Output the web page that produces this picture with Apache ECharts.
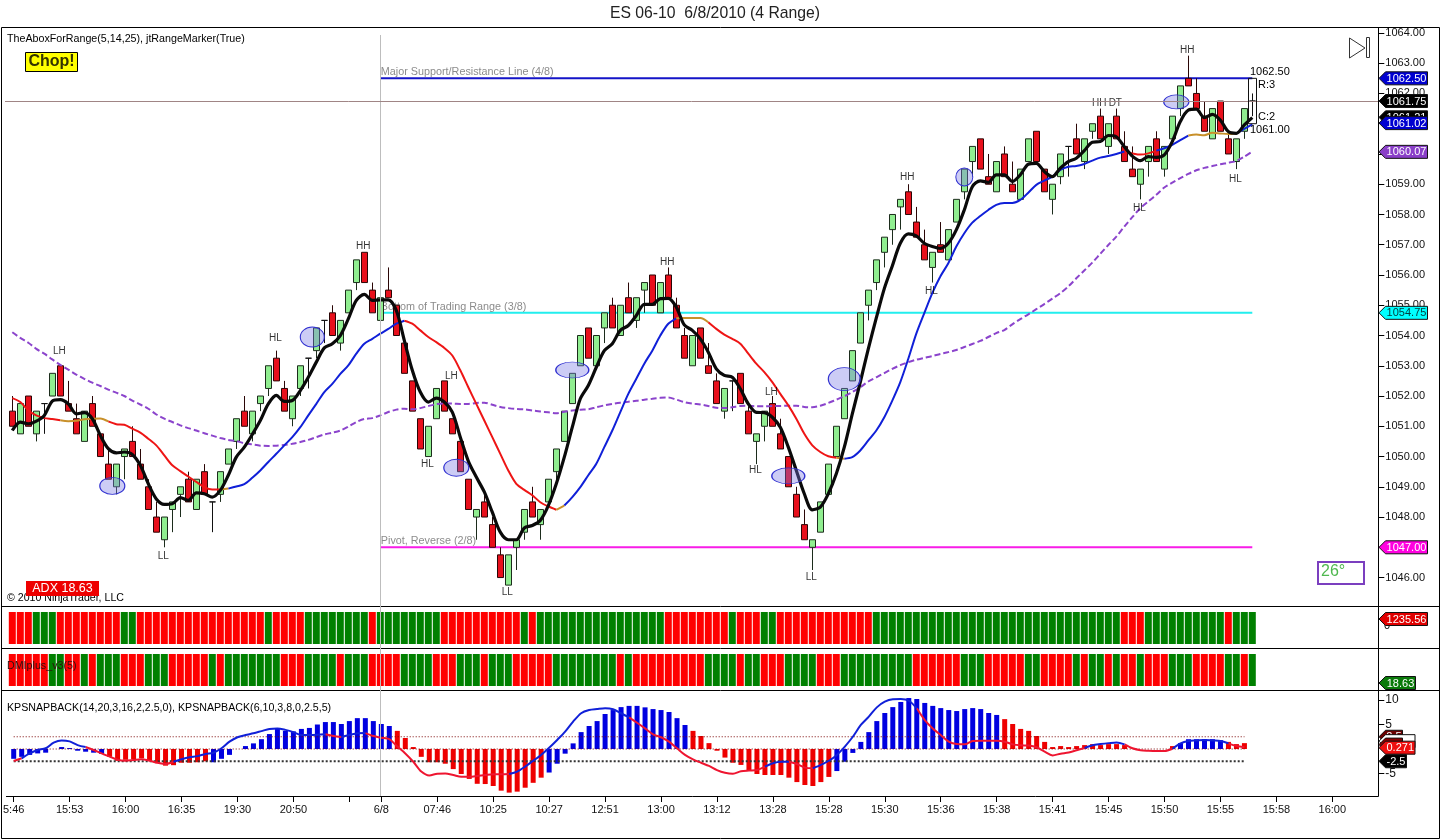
<!DOCTYPE html>
<html><head><meta charset="utf-8">
<style>html,body{margin:0;padding:0;background:#fff}#c{width:1440px;height:840px}</style>
<script src="https://cdn.jsdelivr.net/npm/echarts@6/dist/echarts.min.js"></script>
</head><body><div id="c"></div>
<script>
const opens=[1051.5,1050.75,1052,1050.75,1051.75,1052,1053,1051.75,1051.25,1050.5,
1051.75,1050.75,1049.75,1049,1050,1050.5,1049.75,1049,1048,1047.25,
1048.25,1048.75,1049.25,1048.25,1049.5,1048.5,1048.75,1049.75,1050.5,1051.5,
1050.75,1051.75,1052.25,1053.25,1052.25,1051.25,1052.25,1053.25,1053.5,1054.5,
1054.75,1053.75,1054.75,1055.75,1056.75,1055.5,1054.5,1055.5,1055,1053.75,
1052.5,1051.25,1050,1051.25,1052.5,1051.25,1050.5,1049.25,1048,1048.5,
1047.75,1046.75,1045.75,1047,1047.5,1048.5,1047.75,1048.5,1049.5,1050.5,
1051.75,1053,1054.25,1053,1054.25,1055,1054,1055.25,1054.5,1055.5,
1056,1054.75,1056,1055,1054,1053,1054.25,1053,1052.5,1051.5,
1052.5,1052.75,1051.5,1050.5,1051,1051.75,1050.75,1050,1048.75,1047.75,
1047,1047.5,1048.75,1050,1051.25,1052.5,1053.75,1055,1055.75,1056.75,
1057.5,1058.25,1058.75,1057.75,1057,1056.25,1057,1056.5,1057.75,1058.75,
1059.75,1060.5,1059.25,1058.75,1060,1059,1058.5,1059.75,1060.75,1059.5,
1058.5,1059.25,1060.25,1060.5,1059.75,1060.75,1061.25,1060.25,1061.25,1060.25,
1059.5,1059,1059.75,1060.5,1059.5,1060.5,1061.5,1062.5,1062,1061.25,
1060.5,1061.75,1060.5,1059.75,1060.75,1061.75];
const closes=[1051,1051.75,1051,1051.5,1051.75,1052.75,1052,1051.5,1050.75,1051.5,
1051,1050,1049.25,1049.75,1050.25,1050,1049.25,1048.25,1047.5,1048,
1048.5,1049,1048.5,1049.25,1048.75,1048.5,1049.5,1050.25,1051.25,1051,
1051.5,1052,1053,1052.5,1051.5,1052,1053,1053.25,1054.25,1054.5,
1054,1054.5,1055.5,1056.5,1055.75,1054.75,1055.25,1055.25,1054,1052.75,
1051.5,1050.25,1051,1052.25,1051.5,1050.75,1049.5,1048.25,1048.25,1048,
1047,1046,1046.75,1047.25,1048.25,1048,1048.25,1049.25,1050.25,1051.5,
1052.75,1054,1053.25,1054,1054.75,1054.25,1055,1054.75,1055.25,1055.75,
1055,1055.75,1055.25,1054.25,1053.25,1054,1053.25,1052.75,1051.75,1052.25,
1052.5,1051.75,1050.75,1050.75,1051.5,1051,1050.25,1049,1048,1047.25,
1047.25,1048.5,1049.75,1051,1052.25,1053.5,1054.75,1055.5,1056.5,1057.25,
1058,1058.5,1058,1057.25,1056.5,1056.75,1056.75,1057.5,1058.5,1059.5,
1060.25,1059.5,1059,1059.75,1059.25,1058.75,1059.5,1060.5,1059.75,1058.75,
1059,1060,1060.25,1060,1060.5,1061,1060.5,1061,1060.5,1059.75,
1059.25,1059.5,1060.25,1059.75,1060.25,1061.25,1062.25,1062.25,1061.5,1060.75,
1061.5,1060.75,1060,1060.5,1061.5,1061.75];
const lows=[1051,1050.75,1051,1050.5,1050.75,1052,1052,1051.5,1050.75,1050.5,
1051,1050,1049.25,1048.75,1049.25,1050,1049.25,1048.25,1047.5,1047,
1047.5,1048,1048.5,1048.25,1048.75,1047.5,1048.5,1049.75,1050.25,1051,
1050.5,1051.5,1052,1052.5,1051.5,1051,1052,1052.25,1053.25,1053.75,
1054,1053.5,1054.75,1055.5,1055.75,1054.75,1054.25,1055.25,1054,1052.75,
1051.5,1050.25,1050,1051.25,1051.5,1050.75,1049.5,1048.25,1047.25,1048,
1047,1046,1045.75,1046.25,1047.25,1048,1047.25,1048.5,1049.25,1050.5,
1051.75,1053,1053.25,1053,1053.75,1054.25,1054,1054.75,1054.25,1054.75,
1055,1054.75,1055.25,1054.25,1053.25,1053,1053.25,1052.75,1051.75,1051.25,
1051.5,1051.75,1050.75,1049.75,1050.5,1051,1050.25,1049,1048,1047.25,
1046.25,1047.5,1048.75,1050,1051.25,1052.5,1053.75,1054.5,1055.5,1056.25,
1057,1057.5,1058,1057.25,1056.5,1055.75,1056.75,1056.5,1057.75,1058.5,
1059.25,1059.5,1059,1058.75,1059.25,1058.75,1058.5,1059.75,1059.75,1058.75,
1058,1059,1059.25,1060,1059.5,1060.5,1060.5,1060,1060.5,1059.75,
1059.25,1058.5,1059.25,1059.75,1059.25,1060.5,1061.25,1062.25,1061.5,1060.75,
1060.5,1060.75,1060,1059.5,1060.5,1061.25];
const highs=[1052,1051.75,1052,1051.5,1051.75,1052.75,1053,1052.5,1051.75,1051.5,
1052,1050.75,1050.25,1049.75,1050.25,1051,1050.25,1049.25,1048.5,1048,
1048.5,1049,1049.5,1049.25,1049.75,1048.5,1049.5,1050.25,1051.25,1052,
1051.5,1052,1053,1053.5,1052.5,1052,1053,1053.25,1054.25,1054.5,
1055,1054.5,1055.5,1056.5,1056.75,1055.75,1055.25,1056.25,1055,1053.75,
1052.5,1051.25,1051,1052.25,1052.5,1051.25,1050.5,1049.25,1048.25,1048.75,
1048,1047,1046.75,1047.25,1048.25,1049,1048.25,1049.25,1050.25,1051.5,
1052.75,1054,1054.25,1054,1054.75,1055.25,1055,1055.75,1055.25,1055.75,
1056,1055.75,1056.25,1055.25,1054.25,1054,1054.25,1053.75,1052.75,1052.25,
1052.5,1052.75,1051.75,1050.75,1051.5,1052,1051.25,1050,1049,1048.25,
1047.25,1048.5,1049.75,1051,1052.25,1053.5,1054.75,1055.5,1056.5,1057.25,
1058,1058.5,1059,1058.25,1057.5,1056.75,1057.75,1057.5,1058.5,1059.5,
1060.25,1060.5,1060,1059.75,1060.25,1059.75,1059.5,1060.5,1060.75,1059.5,
1059,1060,1060.25,1061,1060.5,1061,1061.5,1061,1061.5,1060.75,
1060.25,1059.5,1060.25,1060.75,1060.25,1061.25,1062.25,1063.25,1062.5,1061.75,
1061.5,1061.75,1060.75,1060.5,1061.5,1062];
const fastLine=[1050.86,1051.14,1051.08,1051.17,1051.36,1051.83,1051.88,1051.74,1051.41,1051.45,
1051.25,1050.70,1050.26,1050.12,1050.15,1050.07,1049.71,1049.10,1048.60,1048.42,
1048.44,1048.64,1048.55,1048.80,1048.77,1048.66,1048.88,1049.38,1049.98,1050.31,
1050.73,1051.19,1051.74,1052.02,1051.82,1051.85,1052.18,1052.62,1053.12,1053.59,
1053.73,1054.00,1054.55,1055.16,1055.36,1055.16,1055.18,1055.18,1054.83,1053.84,
1052.85,1052.13,1051.80,1051.93,1051.80,1051.47,1050.64,1049.85,1049.32,1048.83,
1048.16,1047.50,1047.25,1047.25,1047.64,1047.72,1047.89,1048.38,1049.10,1049.98,
1050.97,1051.91,1052.35,1052.95,1053.50,1053.73,1054.17,1054.33,1054.66,1055.03,
1055.03,1055.22,1055.23,1054.94,1054.35,1054.17,1053.89,1053.45,1052.90,1052.68,
1052.62,1052.24,1051.74,1051.46,1051.45,1051.30,1050.97,1050.31,1049.54,1048.77,
1048.24,1048.33,1048.77,1049.43,1050.31,1051.41,1052.46,1053.56,1054.58,1055.55,
1056.30,1057.05,1057.36,1057.29,1057.05,1056.94,1056.88,1057.05,1057.49,1058.15,
1058.92,1059.11,1059.06,1059.31,1059.31,1059.09,1059.31,1059.66,1059.69,1059.42,
1059.25,1059.53,1059.75,1059.86,1060.11,1060.39,1060.41,1060.61,1060.57,1060.24,
1059.93,1059.78,1059.91,1059.89,1059.97,1060.41,1061.07,1061.45,1061.48,1061.20,
1061.31,1061.12,1060.74,1060.68,1060.96,1061.20];
const trendLine=[1051.93,1051.80,1051.52,1051.36,1051.27,1051.24,1051.20,1051.17,1051.18,1051.23,
1051.25,1051.26,1051.16,1051.07,1051.05,1050.92,1050.79,1050.59,1050.37,1050.04,
1049.71,1049.52,1049.34,1049.16,1048.99,1048.91,1048.91,1048.94,1049.01,1049.09,
1049.30,1049.54,1049.82,1050.09,1050.37,1050.64,1050.97,1051.36,1051.74,1052.13,
1052.40,1052.73,1053.01,1053.40,1053.73,1053.89,1054.06,1054.22,1054.39,1054.49,
1054.39,1054.17,1053.95,1053.78,1053.59,1053.34,1052.85,1052.29,1051.74,1051.19,
1050.64,1050.09,1049.54,1049.10,1048.90,1048.72,1048.49,1048.35,1048.24,1048.38,
1048.66,1048.99,1049.38,1049.76,1050.31,1050.86,1051.47,1052.07,1052.57,1053.07,
1053.50,1054.00,1054.39,1054.57,1054.58,1054.58,1054.58,1054.44,1054.22,1054.03,
1053.89,1053.73,1053.40,1053.07,1052.79,1052.46,1052.07,1051.69,1051.25,1050.75,
1050.37,1050.15,1050.01,1049.96,1049.93,1049.98,1050.20,1050.53,1050.86,1051.30,
1051.85,1052.46,1053.23,1054.06,1054.74,1055.40,1055.95,1056.39,1056.94,1057.38,
1057.73,1057.95,1058.15,1058.32,1058.38,1058.38,1058.48,1058.72,1058.98,1059.12,
1059.25,1059.47,1059.58,1059.60,1059.67,1059.78,1059.88,1059.93,1060.00,1060.08,
1060.02,1059.98,1060.02,1060.11,1060.19,1060.30,1060.46,1060.61,1060.64,1060.62,
1060.70,1060.68,1060.66,1060.68,1060.83,1060.98];
const slowLine=[1054.11,1053.92,1053.76,1053.56,1053.40,1053.21,1053.03,1052.87,1052.71,1052.57,
1052.44,1052.33,1052.21,1052.11,1052.00,1051.85,1051.72,1051.58,1051.39,1051.25,
1051.14,1051.03,1050.94,1050.86,1050.77,1050.69,1050.61,1050.55,1050.51,1050.44,
1050.40,1050.36,1050.35,1050.36,1050.38,1050.42,1050.48,1050.55,1050.64,1050.73,
1050.79,1050.86,1050.99,1051.14,1051.24,1051.27,1051.36,1051.47,1051.55,1051.58,
1051.56,1051.60,1051.67,1051.73,1051.75,1051.75,1051.74,1051.74,1051.77,
1051.78,1051.71,1051.64,1051.60,1051.57,1051.56,1051.52,1051.49,1051.46,1051.43,
1051.48,1051.52,1051.55,1051.56,1051.63,1051.69,1051.74,1051.78,1051.81,1051.84,
1051.88,1051.91,1051.94,1051.95,1051.88,1051.80,1051.75,1051.72,1051.67,1051.61,
1051.60,1051.63,1051.67,1051.68,1051.66,1051.66,1051.67,1051.67,1051.68,1051.68,
1051.64,1051.63,1051.68,1051.77,1051.88,1051.99,1052.13,1052.29,1052.48,1052.62,
1052.76,1052.90,1053.02,1053.12,1053.20,
1053.26,1053.32,1053.39,1053.45,1053.52,1053.62,1053.72,1053.82,1053.95,1054.08,1054.18,
1054.37,1054.54,1054.70,1054.87,1055.04,1055.22,1055.40,1055.62,1055.89,1056.15,
1056.41,1056.70,1056.99,1057.27,1057.60,1057.91,1058.21,1058.43,1058.65,1058.89,
1059.05,1059.20,1059.34,1059.46,1059.54,1059.60,1059.66,1059.71,1059.77,1059.91,1060.08];
const trendRanges=[[0,6,'r'],[6,12,'o'],[12,26,'r'],[26,27,'o'],[27,49,'b'],[49,68,'r'],[68,69,'o'],[69,83,'b'],[83,87,'o'],[87,103,'r'],[103,104,'o'],[104,139,'b'],[139,143,'r'],[143,147,'b'],[147,153,'o'],[153,155,'b']];
const levelValues=[1062.5,1054.75,1047];
const levelNames=['Major Support/Resistance Line (4/8)','Bottom of Trading Range (3/8)','Pivot, Reverse (2/8)'];
const levelFrom=46, levelTo=155;
const noteTexts=['LH','HL','HH','LL','LH','HL','LL','HH','LH','HL','LL','HH','HL','HL','HH','DT','HH','HL'];
const noteBars=[6,33,44,19,55,52,62,82,95,93,100,112,115,141,136,138,147,153];
const notePrices=[1053.49,1053.91,1056.96,1046.71,1052.66,1049.74,1045.51,1056.41,1052.13,1049.55,1046.02,1059.24,1055.46,1058.21,1061.68,1061.68,1063.44,1059.16];
const ovalBars=[12,37,55,70,97,104,119,145];
const ovalPrices=[1049.03,1053.95,1049.63,1052.86,1049.36,1052.56,1059.24,1061.72];
const stripARuns=[3,3,8,2,16,1,4,8,1,8,10,1,1,16,8,1,3,2,12,31,3,10,1,3];
const stripBRuns=[5,2,2,1,1,3,3,3,5,1,1,7,3,4,1,3,4,4,3,3,1,3,5,8,1,1,9,4,1,2,3,4,3,9,6,3,5,2,4,1,1,2,1,1,2,1,3,3,4,2,1,1];
const oscBars=[-2,-1.6,-1.2,-0.9,-0.75,0,0.4,0.2,-0.35,-0.55,
-0.75,-1,-1.6,-2.4,-2.2,-2.1,-1.9,-2.45,-2.9,-3.4,
-3.3,-2.8,-2.8,-2.7,-2.5,-2.7,-2,-1.2,0,0.6,
1.15,2,3.05,4.1,3.7,3.6,4.1,4.3,5,5.5,
5.5,5.1,5.7,6.3,6.3,5.7,5.1,4.7,3.7,2.25,
0.4,-1.6,-2.7,-2.7,-3,-4.1,-5.1,-6.1,-7.1,-7.15,
-7.55,-8.5,-8.9,-8.7,-7.9,-6.9,-5.85,-4.8,-3,-0.95,
1.15,3.45,4.7,5.7,7.15,7.95,8.55,8.8,8.8,8.5,
8.15,7.95,7.55,6.3,4.9,3.7,2.65,1.2,-0.35,-1.75,
-2.8,-3.25,-4.3,-5.1,-5.3,-5.3,-5.3,-5.85,-6.75,-7.35,
-7.55,-6.75,-5.7,-4.5,-2.6,-0.8,1.45,3.45,5.7,7.35,
8.55,9.6,10.4,10.2,9.4,8.8,8.35,7.95,7.75,8.15,
8.35,8.15,7.35,6.95,6.1,5.1,4.1,3.7,2.65,1.45,
0.4,0.6,0.4,0.6,0.8,1,0.8,1,1,0.8,
0,0,0,0,0,0.6,1.2,2,2,2,
2,1.8,1.45,1,1.2,null];
const oscBarRanges=[[0,11,'b'],[12,24,'r'],[25,47,'b'],[48,66,'r'],[67,84,'b'],[85,102,'r'],[103,123,'b'],[124,145,'r'],[146,151,'b'],[152,155,'r']];
const oscLine=[-2.45,-1.9,-0.9,-0.2,0.15,1.3,1.75,1.55,0.8,0.4,
-0.2,-0.9,-1.55,-2.2,-2.4,-2.25,-2.1,-2.4,-2.8,-3.05,
-2.6,-2.1,-1.7,-1.45,-1.0,-0.75,0.15,1.5,2.4,2.85,
3.2,3.65,4.1,4.2,3.9,3.45,2.85,2.85,2.9,3.0,
2.65,2.45,2.85,3.2,3.25,2.65,2.3,2.0,0.5,-0.9,
-2.6,-4.6,-5.4,-5.05,-5.0,-5.3,-5.65,-5.65,-5.5,
-5.3,-5.15,-5.15,-5.1,-4.6,-3.6,-2.4,-1.2,0.25,1.85,3.55,
5.6,7.3,7.95,8.15,8.3,8.1,7.3,6.45,5.35,4.2,
3.0,2.4,1.5,0.15,-1.2,-2.1,-2.8,-3.45,-4.3,-4.85,
-5.05,-4.55,-4.4,-4.3,-3.6,-2.9,-2.6,-2.6,-3.05,-3.8,
-3.95,-3.25,-2.4,-1.2,0.5,2.5,4.9,6.6,8.5,9.65,
10.15,10.2,9.85,8.3,5.9,4.2,2.85,1.5,1.0,0.95,
1.65,1.7,1.7,1.7,1.5,0.95,0.75,0.7,0.35,-0.55,
-1.3,-0.95,-0.7,-0.25,0.2,0.75,1.0,1.2,1.35,0.95,
0.15,-0.25,-0.35,-0.4,-0.4,0.05,1.15,1.65,1.75,1.85,
1.75,1.65,1.15,0.6,0.35,null];
const oscLineRanges=[[0,1,'r'],[1,9,'b'],[9,20,'r'],[20,39,'b'],[39,41,'r'],[41,44,'b'],[44,62,'r'],[62,77,'b'],[77,94,'r'],[94,97,'b'],[97,100,'r'],[100,113,'b'],[113,134,'r'],[134,139,'b'],[139,145,'r'],[145,152,'b'],[152,154,'r']];
const oscGuides=[2.5,0,-2.5];
const tickBars=[0,7,14,21,28,35,42,46,53,60,67,74,81,88,95,102,109,116,123,130,137,144,151,158,165];
const tickLabels=['5:46','15:53','16:00','16:35','19:30','20:50',' ','6/8','07:46','10:25','10:27','12:51','13:00','13:12','13:28','15:28','15:30','15:36','15:38','15:41','15:45','15:50','15:55','15:58','16:00'];
const priceTicks=[1046,1047,1048,1049,1050,1051,1052,1053,1054,1055,1056,1057,1058,1059,1060,1061,1062,1063,1064];
const oscTicks=[10,5,-5];
const currentPrice=1061.75;

const N=156, SLOTS=171, F='"Liberation Sans",Arial,sans-serif';
[opens,closes,lows,highs,fastLine,trendLine,slowLine,oscBars,oscLine].forEach((a,i)=>{if(a.length!==N)throw new Error('len '+i+' = '+a.length)});
const RED='#FF0000',GREEN='#008000',BLUE='#0000E0';
const palette={r:'#EE1515',b:'#1020D8',o:'#C8902A'};
const cats=Array.from({length:SLOTS},()=>'');
tickBars.forEach((b,i)=>cats[b]=tickLabels[i]);
const isTick=i=>tickBars.includes(i);
const segs=(vals,ranges,key)=>{const o=vals.map(()=>null);ranges.filter(r=>r[2]===key).forEach(r=>{for(let i=r[0];i<=r[1];i++)o[i]=vals[i]});return o};
const expand=runs=>{const o=[];runs.forEach((n,k)=>{for(let j=0;j<n;j++)o.push({value:1,itemStyle:{color:k%2?GREEN:RED}})});return o};
const histColor=i=>{const r=oscBarRanges.find(r=>i>=r[0]&&i<=r[1]);return r&&r[2]==='r'?'#EE0000':BLUE};

const G={left:8.3,width:1368};
const grids=[{...G,top:27.5,height:578.5},{...G,top:612,height:32},{...G,top:654,height:32},{...G,top:690.5,height:105.5}];
const xBase={type:'category',data:cats,boundaryGap:true,axisLine:{show:false,onZero:false},axisTick:{show:false},axisLabel:{show:false},splitLine:{show:false}};
const xAxes=[0,1,2].map(g=>({...xBase,gridIndex:g}));
xAxes.push({...xBase,gridIndex:3,position:'bottom',
  axisTick:{show:true,alignWithLabel:true,interval:isTick,length:6,lineStyle:{color:'#000'}},
  axisLabel:{show:true,interval:isTick,margin:8,color:'#111',fontFamily:F,fontSize:11,hideOverlap:false}});
const yAxes=[
 {gridIndex:0,type:'value',position:'right',offset:2,min:1045.06,max:1064.18,splitLine:{show:false},axisLine:{show:false},
  axisTick:{show:true,length:6,customValues:priceTicks,lineStyle:{color:'#000'}},
  axisLabel:{show:true,margin:7,padding:[2,0,0,0],customValues:priceTicks,color:'#111',fontFamily:F,fontSize:11,formatter:v=>v.toFixed(2)}},
 {gridIndex:1,type:'value',min:0,max:1,show:false},
 {gridIndex:2,type:'value',min:0,max:1,show:false},
 {gridIndex:3,type:'value',position:'right',offset:2,min:-9.59,max:11.94,splitLine:{show:false},axisLine:{show:false},
  axisTick:{show:true,length:6,customValues:oscTicks,lineStyle:{color:'#000'}},
  axisLabel:{show:true,margin:7,customValues:oscTicks,color:'#111',fontFamily:F,fontSize:12}}
];
const series=[];
levelValues.forEach((v,k)=>{
  const col=['#1414C8','#22EEEE','#F81CE8'][k];
  series.push({type:'line',xAxisIndex:0,yAxisIndex:0,z:1,showSymbol:false,silent:true,
    data:cats.map((_,i)=>i>=levelFrom&&i<=levelTo?v:null),lineStyle:{color:col,width:2}});
  series.push({type:'scatter',xAxisIndex:0,yAxisIndex:0,z:1,silent:true,symbolSize:1,itemStyle:{color:'transparent'},
    data:[[levelFrom,v]],label:{show:true,position:'right',distance:0,offset:[0,-6],formatter:levelNames[k],color:'#6e6e6e',fontFamily:F,fontSize:10.8}});
});
series.push({type:'candlestick',xAxisIndex:0,yAxisIndex:0,z:3,barWidth:6,silent:true,
  data:opens.map((o,i)=>[o,closes[i],lows[i],highs[i]]),
  itemStyle:{color:'#90EE90',color0:'#E8101C',borderColor:'#1c2c1c',borderColor0:'#2a0606',borderColorDoji:'#111',borderWidth:1}});
series.push({type:'line',xAxisIndex:0,yAxisIndex:0,z:4,showSymbol:false,silent:true,smooth:0.3,data:slowLine,
  lineStyle:{color:'#8B44CC',width:2,type:[6,3]}});
['r','b','o'].forEach(key=>series.push({type:'line',xAxisIndex:0,yAxisIndex:0,z:5,showSymbol:false,silent:true,smooth:0.3,
  data:segs(trendLine,trendRanges,key),lineStyle:{color:palette[key],width:2}}));
series.push({type:'line',xAxisIndex:0,yAxisIndex:0,z:6,showSymbol:false,silent:true,smooth:0.3,data:fastLine,
  lineStyle:{color:'#0a0a0a',width:3.2}});
const ovalSize=[[25,17],[24,20],[25,17],[33,16],[33,16],[32,23],[17,18],[25,14]];
const ovalShift=[4,4,4,0,0,0,0,4];
series.push({type:'scatter',xAxisIndex:0,yAxisIndex:0,z:7,silent:true,symbol:'circle',
  data:ovalBars.map((b,i)=>({value:[b,ovalPrices[i]],symbolSize:ovalSize[i],symbolOffset:[ovalShift[i],0]})),
  itemStyle:{color:'rgba(120,120,228,0.38)',borderColor:'#3030D0',borderWidth:1,opacity:1}});
series.push({type:'scatter',xAxisIndex:0,yAxisIndex:0,z:8,silent:true,symbolSize:1,itemStyle:{color:'transparent'},
  data:noteBars.map((b,i)=>({value:[b,notePrices[i]],name:noteTexts[i]})),
  label:{show:true,position:'inside',offset:[-1,0],formatter:p=>p.name,color:'#000',fontFamily:F,fontSize:10}});
series.push({type:'bar',xAxisIndex:1,yAxisIndex:1,barWidth:7,silent:true,data:expand(stripARuns)});
series.push({type:'bar',xAxisIndex:2,yAxisIndex:2,barWidth:7,silent:true,data:expand(stripBRuns)});
series.push({type:'bar',xAxisIndex:3,yAxisIndex:3,barWidth:5,silent:true,z:2,
  data:oscBars.map((v,i)=>({value:v,itemStyle:{color:histColor(i)}}))});
oscGuides.forEach((v,k)=>series.push({type:'line',xAxisIndex:3,yAxisIndex:3,z:3,showSymbol:false,silent:true,
  data:cats.map((_,i)=>i<=154?v:null),
  lineStyle:k===2?{color:'#333',width:2,type:[2,2]}:{color:'#7a0000',width:1,type:[1,2]}}));
['r','b'].forEach(key=>series.push({type:'line',xAxisIndex:3,yAxisIndex:3,z:4,showSymbol:false,silent:true,smooth:0.3,
  data:segs(oscLine,oscLineRanges,key),lineStyle:{color:key==='r'?'#EE1530':'#1020D8',width:2}}));

const chart=echarts.init(document.getElementById('c'),null,{renderer:'canvas'});
chart.setOption({animation:false,backgroundColor:'#fff',grid:grids,xAxis:xAxes,yAxis:yAxes,series});

const yP=v=>chart.convertToPixel({yAxisIndex:0},v), yO=v=>chart.convertToPixel({yAxisIndex:3},v);
const g=[];
const line=(x1,y1,x2,y2,c,z,w)=>g.push({type:'line',silent:true,z:z||50,shape:{x1,y1,x2,y2},style:{stroke:c||'#000',lineWidth:w||1}});
const txt=(t,x,y,o={})=>g.push({type:'text',silent:true,z:o.z||60,style:{text:t,x,y,fill:o.c||'#000',font:(o.b?'bold ':'')+(o.s||11)+'px '+F,textAlign:o.a||'left',textVerticalAlign:'middle',align:o.a||'left',verticalAlign:'middle'}});
const box=(x,y,w,h,fill,stroke,z,lw)=>g.push({type:'rect',silent:true,z:z||55,shape:{x,y,width:w,height:h},style:{fill:fill||'none',stroke:stroke||'none',lineWidth:lw||1}});
let fz=70;
const flag=(y,right,fill,tc,t)=>{fz+=2;
  g.push({type:'polygon',silent:true,z:fz,shape:{points:[[1379,y],[1385.5,y-6.5],[right,y-6.5],[right,y+6.5],[1385.5,y+6.5]]},style:{fill,stroke:'#111',lineWidth:1}});
  if(t)txt(t,(1385.5+right)/2,y+0.5,{c:tc,a:'center',z:fz+1});};
// frame
line(1.5,27.5,1439.5,27.5);line(1.5,27.5,1.5,838.5);line(1439.5,27.5,1439.5,838.5);line(1.5,838.5,1439.5,838.5);
[606.5,648.5,690.5].forEach(y=>line(1.5,y,1439.5,y));
line(6,796.5,1378.5,796.5);line(1378.5,27.5,1378.5,796.5);
// crosshair (behind marks)
line(380.5,35,380.5,796,'#bdbdbd',0);
line(5,Math.round(yP(currentPrice))+0.5,1378,Math.round(yP(currentPrice))+0.5,'#A08585',0);
// headers
txt('ES 06-10  6/8/2010 (4 Range)',715,13.5,{a:'center',s:15.75,c:'#222'});
txt('TheAboxForRange(5,14,25), jtRangeMarker(True)',7,39.5,{s:10.7});
box(25.5,52.5,52,19,'#FFFF00','#000');
txt('Chop!',51.5,62,{a:'center',b:1,s:16,c:'#333300'});
txt('\u00A9 2010 NinjaTrader, LLC',7,598,{s:10.6});
box(26,581,73,15,'#EE0000',null,62);
txt('ADX 18.63',62.5,588.5,{a:'center',s:12.5,c:'#fff',z:63});
txt('DMIplus_v3(5)',7,666,{c:'#301010',s:10.7});
txt('KPSNAPBACK(14,20,3,16,2,2.5,0), KPSNAPBACK(6,10,3,8,0,2.5,5)',7,708,{s:10.65});
// range marker
box(1248.5,yP(1062.5),8,yP(1061)-yP(1062.5),null,'#111',56);
txt('1062.50',1250,72);txt('R:3',1258,85);txt('C:2',1258,117);txt('1061.00',1250,130);
// replay icon
g.push({type:'polygon',silent:true,z:56,shape:{points:[[1349.5,38],[1349.5,58],[1365,48]]},style:{fill:'#fff',stroke:'#333',lineWidth:1}});
box(1366.5,37.5,3,20,'#fff','#333',56);
// angle box
box(1318,562,46,22,'#fff','#7B3FBF',56,2);
txt('26\u00B0',1321,572,{s:16,c:'#4FB84F'});
// price flags
flag(yP(1062.5),1427.5,'#0000D0','#fff','1062.50');
flag(yP(1061.75),1427.5,'#000','#fff','1061.75');
flag(yP(1061.21),1427.5,'#000','#fff','1061.21');
flag(yP(1061.02),1427.5,'#0000D0','#fff','1061.02');
flag(yP(1060.07),1427.5,'#8A3FC8','#fff','1060.07');
flag(yP(1054.75),1427.5,'#00FFFF','#004040','1054.75');
flag(yP(1047),1427.5,'#FF00E0','#fff','1047.00');
// strip values
txt('0',1384,626,{z:60});
flag(619,1427.5,'#E00000','#fff','1235.56');
flag(683,1415.5,'#0A7A0A','#fff','18.63');
// oscillator flags
flag(yO(2.5),1402.5,'#6A0000','#fff','2.5');
flag(yO(1.6),1415,'#fff','#111','');
flag(yO(0.9),1402.5,'#8A0000','#fff','');
flag(yO(0.271),1415,'#EE1010','#fff','0.271');
flag(yO(-2.5),1406.5,'#000','#fff','-2.5');
chart.setOption({graphic:g});
</script></body></html>
